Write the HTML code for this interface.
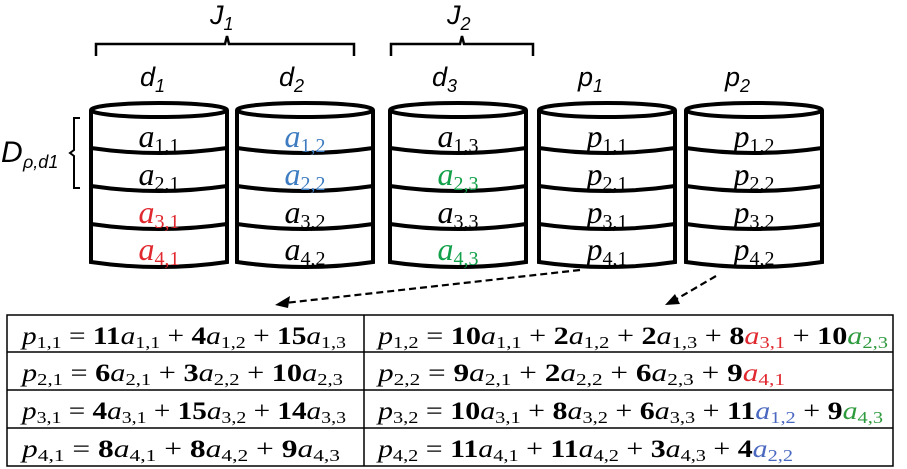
<!DOCTYPE html>
<html><head><meta charset="utf-8"><style>
html,body{margin:0;padding:0;background:#fff;}
svg{display:block;}
</style></head><body>
<svg width="907" height="469" viewBox="0 0 907 469" xmlns="http://www.w3.org/2000/svg">
<defs>
<g id="cyl" fill="none" stroke="#000" stroke-width="4">
<path d="M0,110 L0,262 Q68,272 136,262 L136,110" fill="#fff"/>
<ellipse cx="68" cy="110" rx="68" ry="7"/>
<path d="M0,148 Q68,158 136,148"/>
<path d="M0,186 Q68,196 136,186"/>
<path d="M0,224 Q68,234 136,224"/>
</g>
</defs>
<path d="M96,56 L96,44 L225,44 L227,36 L229,44 L354,44 L354,56" fill="none" stroke="#000" stroke-width="2.5"/>
<path d="M391,56 L391,44 L460,44 L462,36 L464,44 L533,44 L533,56" fill="none" stroke="#000" stroke-width="2.5"/>
<g font-family="Liberation Sans, DejaVu Sans, sans-serif" font-style="italic" font-size="27">
<text x="210" y="24">J<tspan dy="6" font-size="18">1</tspan></text>
<text x="447" y="24">J<tspan dy="6" font-size="18">2</tspan></text>
<text x="140" y="86">d<tspan dy="6" font-size="18">1</tspan></text>
<text x="279" y="86">d<tspan dy="6" font-size="18">2</tspan></text>
<text x="432" y="86">d<tspan dy="6" font-size="18">3</tspan></text>
<text x="578" y="86">p<tspan dy="6" font-size="18">1</tspan></text>
<text x="725" y="86">p<tspan dy="6" font-size="18">2</tspan></text>
<text x="1" y="162" font-size="30">D</text>
<text x="23" y="168" font-size="18">ρ,d1</text>
</g>
<path d="M80,118 L74,118 L74,150 L70,153 L74,156 L74,188 L80,188" fill="none" stroke="#000" stroke-width="2"/>
<use href="#cyl" x="91" y="0"/>
<use href="#cyl" x="237" y="0"/>
<use href="#cyl" x="390" y="0"/>
<use href="#cyl" x="539" y="0"/>
<use href="#cyl" x="686" y="0"/>
<g font-family="Liberation Serif, DejaVu Serif, serif" font-style="italic" font-size="32" text-anchor="middle">
<text x="159" y="147">a<tspan font-style="normal" font-size="20" dy="5">1,1</tspan></text>
<text x="159" y="185">a<tspan font-style="normal" font-size="20" dy="5">2,1</tspan></text>
<text x="159" y="223" fill="#e0282f">a<tspan font-style="normal" font-size="20" dy="5">3,1</tspan></text>
<text x="159" y="260" fill="#e0282f">a<tspan font-style="normal" font-size="20" dy="5">4,1</tspan></text>
<text x="305" y="147" fill="#3d7cc0">a<tspan font-style="normal" font-size="20" dy="5">1,2</tspan></text>
<text x="305" y="185" fill="#3d7cc0">a<tspan font-style="normal" font-size="20" dy="5">2,2</tspan></text>
<text x="305" y="223">a<tspan font-style="normal" font-size="20" dy="5">3,2</tspan></text>
<text x="305" y="260">a<tspan font-style="normal" font-size="20" dy="5">4,2</tspan></text>
<text x="458" y="147">a<tspan font-style="normal" font-size="20" dy="5">1,3</tspan></text>
<text x="458" y="185" fill="#12a04a">a<tspan font-style="normal" font-size="20" dy="5">2,3</tspan></text>
<text x="458" y="223">a<tspan font-style="normal" font-size="20" dy="5">3,3</tspan></text>
<text x="458" y="260" fill="#12a04a">a<tspan font-style="normal" font-size="20" dy="5">4,3</tspan></text>
<text x="607" y="147">p<tspan font-style="normal" font-size="20" dy="5">1,1</tspan></text>
<text x="607" y="185">p<tspan font-style="normal" font-size="20" dy="5">2,1</tspan></text>
<text x="607" y="223">p<tspan font-style="normal" font-size="20" dy="5">3,1</tspan></text>
<text x="607" y="260">p<tspan font-style="normal" font-size="20" dy="5">4,1</tspan></text>
<text x="754" y="147">p<tspan font-style="normal" font-size="20" dy="5">1,2</tspan></text>
<text x="754" y="185">p<tspan font-style="normal" font-size="20" dy="5">2,2</tspan></text>
<text x="754" y="223">p<tspan font-style="normal" font-size="20" dy="5">3,2</tspan></text>
<text x="754" y="260">p<tspan font-style="normal" font-size="20" dy="5">4,2</tspan></text>
</g>
<path d="M580,270 L285,303" fill="none" stroke="#000" stroke-width="2.2" stroke-dasharray="7,4"/>
<path d="M275,305 L290,296 L288,308 Z" fill="#000"/>
<path d="M716,276 L675,300" fill="none" stroke="#000" stroke-width="2.2" stroke-dasharray="7,4"/>
<path d="M665,305 L675,294 L680,304 Z" fill="#000"/>
<g fill="none" stroke="#000" stroke-width="1.5">
<rect x="7" y="315" width="886" height="151"/>
<line x1="7" y1="352" x2="893" y2="352"/>
<line x1="7" y1="390" x2="893" y2="390"/>
<line x1="7" y1="428" x2="893" y2="428"/>
<line x1="364" y1="315" x2="364" y2="466"/>
</g>
<g font-family="Liberation Serif, DejaVu Serif, serif" font-size="25">
<text x="22" y="344" textLength="324" lengthAdjust="spacingAndGlyphs"><tspan font-style="italic">p</tspan><tspan font-size="17" dy="4">1,1</tspan><tspan dy="-4"> = </tspan><tspan font-weight="bold">11</tspan><tspan font-style="italic">a</tspan><tspan font-size="17" dy="4">1,1</tspan><tspan dy="-4"> +  </tspan><tspan font-weight="bold">4</tspan><tspan font-style="italic">a</tspan><tspan font-size="17" dy="4">1,2</tspan><tspan dy="-4"> + </tspan><tspan font-weight="bold">15</tspan><tspan font-style="italic">a</tspan><tspan font-size="17" dy="4">1,3</tspan></text>
<text x="22" y="381" textLength="321" lengthAdjust="spacingAndGlyphs"><tspan font-style="italic">p</tspan><tspan font-size="17" dy="4">2,1</tspan><tspan dy="-4"> =  </tspan><tspan font-weight="bold">6</tspan><tspan font-style="italic">a</tspan><tspan font-size="17" dy="4">2,1</tspan><tspan dy="-4"> +  </tspan><tspan font-weight="bold">3</tspan><tspan font-style="italic">a</tspan><tspan font-size="17" dy="4">2,2</tspan><tspan dy="-4"> + </tspan><tspan font-weight="bold">10</tspan><tspan font-style="italic">a</tspan><tspan font-size="17" dy="4">2,3</tspan></text>
<text x="22" y="419" textLength="324" lengthAdjust="spacingAndGlyphs"><tspan font-style="italic">p</tspan><tspan font-size="17" dy="4">3,1</tspan><tspan dy="-4"> =  </tspan><tspan font-weight="bold">4</tspan><tspan font-style="italic">a</tspan><tspan font-size="17" dy="4">3,1</tspan><tspan dy="-4"> + </tspan><tspan font-weight="bold">15</tspan><tspan font-style="italic">a</tspan><tspan font-size="17" dy="4">3,2</tspan><tspan dy="-4"> + </tspan><tspan font-weight="bold">14</tspan><tspan font-style="italic">a</tspan><tspan font-size="17" dy="4">3,3</tspan></text>
<text x="22" y="457" textLength="318" lengthAdjust="spacingAndGlyphs"><tspan font-style="italic">p</tspan><tspan font-size="17" dy="4">4,1</tspan><tspan dy="-4"> =  </tspan><tspan font-weight="bold">8</tspan><tspan font-style="italic">a</tspan><tspan font-size="17" dy="4">4,1</tspan><tspan dy="-4"> +  </tspan><tspan font-weight="bold">8</tspan><tspan font-style="italic">a</tspan><tspan font-size="17" dy="4">4,2</tspan><tspan dy="-4"> +  </tspan><tspan font-weight="bold">9</tspan><tspan font-style="italic">a</tspan><tspan font-size="17" dy="4">4,3</tspan></text>

<text x="378" y="344" textLength="510" lengthAdjust="spacingAndGlyphs"><tspan font-style="italic">p</tspan><tspan font-size="17" dy="4">1,2</tspan><tspan dy="-4"> = </tspan><tspan font-weight="bold">10</tspan><tspan font-style="italic">a</tspan><tspan font-size="17" dy="4">1,1</tspan><tspan dy="-4"> +  </tspan><tspan font-weight="bold">2</tspan><tspan font-style="italic">a</tspan><tspan font-size="17" dy="4">1,2</tspan><tspan dy="-4"> +  </tspan><tspan font-weight="bold">2</tspan><tspan font-style="italic">a</tspan><tspan font-size="17" dy="4">1,3</tspan><tspan dy="-4"> +  </tspan><tspan font-weight="bold">8</tspan><tspan font-style="italic" fill="#e0282f">a</tspan><tspan font-size="17" dy="4" fill="#e0282f">3,1</tspan><tspan dy="-4"> + </tspan><tspan font-weight="bold">10</tspan><tspan font-style="italic" fill="#2e9a3e">a</tspan><tspan font-size="17" dy="4" fill="#2e9a3e">2,3</tspan></text>
<text x="378" y="381" textLength="407" lengthAdjust="spacingAndGlyphs"><tspan font-style="italic">p</tspan><tspan font-size="17" dy="4">2,2</tspan><tspan dy="-4"> =  </tspan><tspan font-weight="bold">9</tspan><tspan font-style="italic">a</tspan><tspan font-size="17" dy="4">2,1</tspan><tspan dy="-4"> +  </tspan><tspan font-weight="bold">2</tspan><tspan font-style="italic">a</tspan><tspan font-size="17" dy="4">2,2</tspan><tspan dy="-4"> +  </tspan><tspan font-weight="bold">6</tspan><tspan font-style="italic">a</tspan><tspan font-size="17" dy="4">2,3</tspan><tspan dy="-4"> +  </tspan><tspan font-weight="bold">9</tspan><tspan font-style="italic" fill="#e0282f">a</tspan><tspan font-size="17" dy="4" fill="#e0282f">4,1</tspan></text>
<text x="378" y="419" textLength="505" lengthAdjust="spacingAndGlyphs"><tspan font-style="italic">p</tspan><tspan font-size="17" dy="4">3,2</tspan><tspan dy="-4"> = </tspan><tspan font-weight="bold">10</tspan><tspan font-style="italic">a</tspan><tspan font-size="17" dy="4">3,1</tspan><tspan dy="-4"> +  </tspan><tspan font-weight="bold">8</tspan><tspan font-style="italic">a</tspan><tspan font-size="17" dy="4">3,2</tspan><tspan dy="-4"> +  </tspan><tspan font-weight="bold">6</tspan><tspan font-style="italic">a</tspan><tspan font-size="17" dy="4">3,3</tspan><tspan dy="-4"> + </tspan><tspan font-weight="bold">11</tspan><tspan font-style="italic" fill="#4a68c0">a</tspan><tspan font-size="17" dy="4" fill="#4a68c0">1,2</tspan><tspan dy="-4"> +  </tspan><tspan font-weight="bold">9</tspan><tspan font-style="italic" fill="#2e9a3e">a</tspan><tspan font-size="17" dy="4" fill="#2e9a3e">4,3</tspan></text>
<text x="378" y="457" textLength="415" lengthAdjust="spacingAndGlyphs"><tspan font-style="italic">p</tspan><tspan font-size="17" dy="4">4,2</tspan><tspan dy="-4"> = </tspan><tspan font-weight="bold">11</tspan><tspan font-style="italic">a</tspan><tspan font-size="17" dy="4">4,1</tspan><tspan dy="-4"> + </tspan><tspan font-weight="bold">11</tspan><tspan font-style="italic">a</tspan><tspan font-size="17" dy="4">4,2</tspan><tspan dy="-4"> +  </tspan><tspan font-weight="bold">3</tspan><tspan font-style="italic">a</tspan><tspan font-size="17" dy="4">4,3</tspan><tspan dy="-4"> +  </tspan><tspan font-weight="bold">4</tspan><tspan font-style="italic" fill="#4a68c0">a</tspan><tspan font-size="17" dy="4" fill="#4a68c0">2,2</tspan></text>
</g>
</svg>
</body></html>
